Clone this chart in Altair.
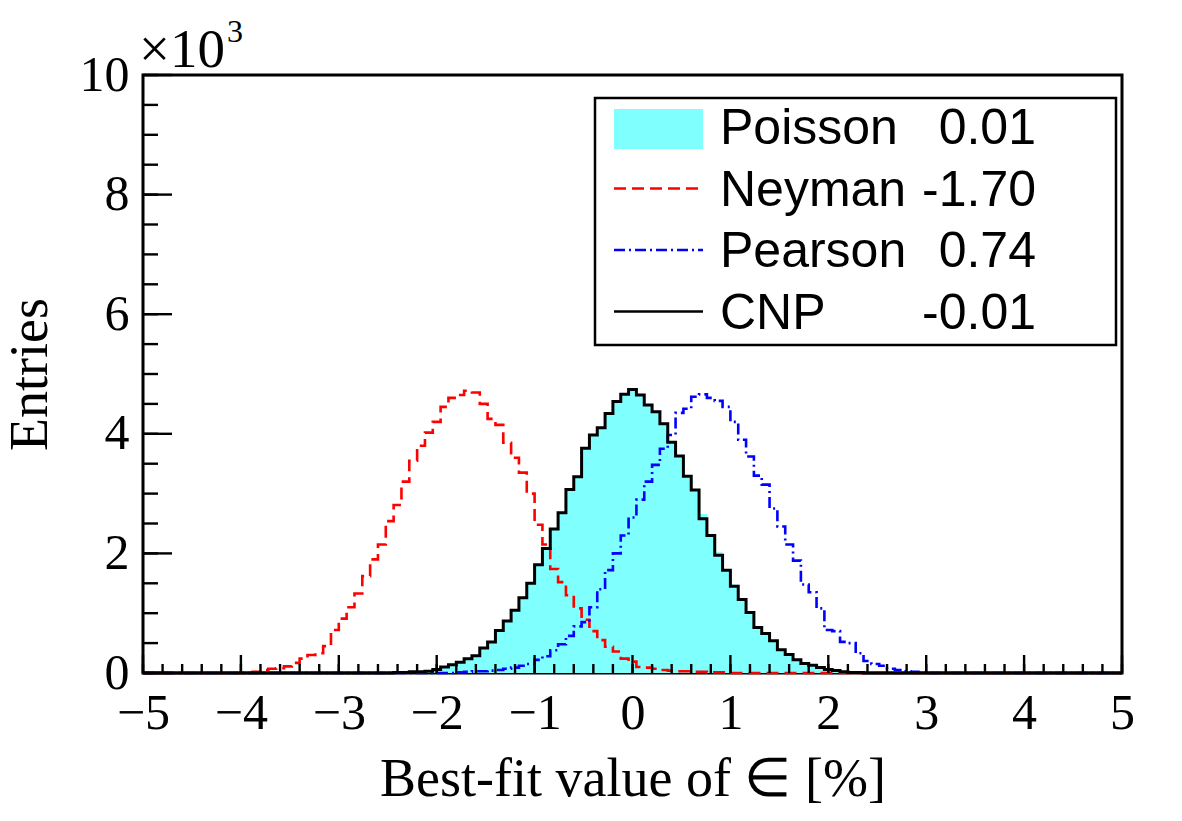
import altair as alt
import pandas as pd

# ---------------------------------------------------------------------------
# Histogram contents: 125 bins of width 0.08 on [-5, 5].
# Each list starts at the bin whose centre is given by *_FIRST; all other
# bins are empty.
# ---------------------------------------------------------------------------
BIN_WIDTH = 0.08
X_MIN, X_MAX = -5.0, 5.0
N_BINS = 125

CNP_FIRST = -2.40
CNP = [10, 10, 20, 20, 30, 60, 100, 140, 180, 240,
       290, 420, 520, 710, 870, 1050, 1260, 1500, 1810, 2080,
       2410, 2680, 3070, 3280, 3760, 3980, 4100, 4340, 4540, 4660,
       4740, 4650, 4480, 4370, 4170, 3860, 3630, 3290, 3060, 2580,
       2300, 1970, 1720, 1450, 1230, 1010, 760, 660, 540, 390,
       310, 220, 160, 130, 90, 60, 40, 20, 10, 10]

POISSON_FIRST = -2.40
POISSON = [10, 10, 20, 20, 30, 60, 100, 140, 180, 240,
           290, 420, 520, 710, 870, 1050, 1260, 1500, 1810, 2080,
           2410, 2680, 3070, 3280, 3760, 3980, 4100, 4340, 4540, 4660,
           4740, 4650, 4480, 4370, 4170, 3860, 3630, 3310, 3060, 2660,
           2300, 2020, 1720, 1480, 1230, 1010, 760, 660, 540, 390,
           310, 220, 160, 130, 90, 60, 40, 20, 10, 10]

NEYMAN_FIRST = -3.92
NEYMAN = [10, 20, 50, 70, 80, 110, 170, 240, 300, 330,
          450, 720, 910, 1100, 1330, 1620, 1900, 2150, 2540, 2810,
          3200, 3550, 3800, 4020, 4200, 4450, 4600, 4650, 4720, 4690,
          4500, 4250, 4150, 3850, 3600, 3350, 3000, 2480, 2150, 1740,
          1520, 1300, 1080, 890, 700, 550, 440, 360, 240, 190,
          100, 90, 70, 50, 40, 30, 30, 20, 20, 10,
          10, 10]

PEARSON_FIRST = -1.76
PEARSON = [10, 20, 30, 30, 40, 50, 70, 90, 120, 150,
           220, 280, 380, 480, 620, 780, 850, 1100, 1400, 1720,
           2000, 2300, 2600, 2900, 3200, 3480, 3750, 3980, 4350, 4420,
           4620, 4660, 4600, 4550, 4450, 4200, 3900, 3620, 3300, 3150,
           2750, 2450, 2150, 1880, 1480, 1350, 1080, 720, 700, 520,
           500, 330, 200, 150, 120, 70, 50, 30, 20, 10]

LEGEND_NAMES = ["Poisson", "Neyman", "Pearson", "CNP"]
LEGEND_VALUES = ["0.01", "-1.70", "0.74", "-0.01"]

X_MAJOR = [-5, -4, -3, -2, -1, 0, 1, 2, 3, 4, 5]
Y_MAJOR = [0, 2000, 4000, 6000, 8000, 10000]

# ---------------------------------------------------------------------------
W, H = 979, 598
CYAN = "#80FFFF"
SERIF = "Liberation Serif"
SANS = "Liberation Sans"


def step_table(first_centre, values, name):
    """Left bin edges with contents, plus the closing right edge (step-after)."""
    full = [0] * N_BINS
    start = round((first_centre - (X_MIN + BIN_WIDTH / 2)) / BIN_WIDTH)
    for k, v in enumerate(values):
        full[start + k] = v
    edges = [X_MIN + i * BIN_WIDTH for i in range(N_BINS + 1)]
    ys = full + [full[-1]]
    return pd.DataFrame({"x": edges, "y": ys, "series": name})


poisson_df = step_table(POISSON_FIRST, POISSON, "Poisson")
neyman_df = step_table(NEYMAN_FIRST, NEYMAN, "Neyman")
pearson_df = step_table(PEARSON_FIRST, PEARSON, "Pearson")
cnp_df = step_table(CNP_FIRST, CNP, "CNP")

xscale = alt.Scale(domain=[X_MIN, X_MAX], nice=False, zero=False)
yscale = alt.Scale(domain=[0, 10000], nice=False, zero=True)

X_TITLE = "Best-fit value of \u2208 [%]"
Y_TITLE = "Entries"

x_axis = alt.Axis(values=X_MAJOR, ticks=False, domain=False, grid=False,
                  labelFont=SERIF, labelFontSize=50, labelColor="black",
                  labelPadding=15, labelFlush=False,
                  titleFont=SERIF, titleFontSize=54, titleFontWeight="normal",
                  titleColor="black", titlePadding=14)
y_axis = alt.Axis(values=Y_MAJOR, ticks=False, domain=False, grid=False,
                  labelExpr="datum.value / 1000",
                  labelFont=SERIF, labelFontSize=50, labelColor="black",
                  labelPadding=14, labelFlush=False,
                  titleFont=SERIF, titleFontSize=54, titleFontWeight="normal",
                  titleColor="black", titlePadding=22)


def X(field):
    return alt.X(field, scale=xscale, axis=x_axis, title=X_TITLE)


def Y(field):
    return alt.Y(field, scale=yscale, axis=y_axis, title=Y_TITLE)


poisson = alt.Chart(poisson_df).mark_area(
    interpolate="step-after", color=CYAN, opacity=1
).encode(x=X("x:Q"), y=Y("y:Q"))


def outline(df, color, width, dash=None):
    kw = dict(interpolate="step-after", color=color, strokeWidth=width)
    if dash:
        kw["strokeDash"] = dash
    return alt.Chart(df).mark_line(**kw).encode(x=X("x:Q"), y=Y("y:Q"))


neyman = outline(neyman_df, "#FF0000", 2.6, [12, 6])
pearson = outline(pearson_df, "#0000FF", 2.6, [11, 4, 2, 4])
cnp = outline(cnp_df, "#000000", 3)

# Inward-pointing tick marks on the bottom and left edges
x_minor_vals = [round(X_MIN + 0.2 * i, 2) for i in range(51)]
y_minor_vals = [500 * i for i in range(21)]


def x_ticks(vals, length):
    return alt.Chart(pd.DataFrame({"x": vals})).mark_rule(
        color="black", strokeWidth=2.4
    ).encode(x=X("x:Q"), y=alt.value(H), y2=alt.value(H - length))


def y_ticks(vals, length):
    return alt.Chart(pd.DataFrame({"y": vals})).mark_rule(
        color="black", strokeWidth=2.4
    ).encode(y=Y("y:Q"), x=alt.value(0), x2=alt.value(length))


ticks = (x_ticks(x_minor_vals, 9) + x_ticks(X_MAJOR, 18)
         + y_ticks(y_minor_vals, 15) + y_ticks(Y_MAJOR, 29))

# Exponent label above the y axis
one = pd.DataFrame({"k": [0]})
exp_base = alt.Chart(one).mark_text(
    text="\u00d710", font=SERIF, fontSize=55, align="left", baseline="alphabetic",
    color="black"
).encode(x=alt.value(-4), y=alt.value(-8))
exp_pow = alt.Chart(one).mark_text(
    text="3", font=SERIF, fontSize=32, align="left", baseline="alphabetic",
    color="black"
).encode(x=alt.value(84), y=alt.value(-33))

# Legend box
LX0, LX1, LY0, LY1 = 452, 973, 23, 270
ROW0, ROW_STEP = 52, 61.5
SYM_X0, SYM_X1 = 471, 560

legend_box = alt.Chart(one).mark_rect(
    fill="white", stroke="black", strokeWidth=2.5
).encode(x=alt.value(LX0), x2=alt.value(LX1), y=alt.value(LY0), y2=alt.value(LY1))

sym_poisson = alt.Chart(one).mark_rect(fill=CYAN).encode(
    x=alt.value(SYM_X0), x2=alt.value(SYM_X1),
    y=alt.value(ROW0 - 18), y2=alt.value(ROW0 + 22))


def sym_line(row, color, width, dash=None):
    kw = dict(color=color, strokeWidth=width)
    if dash:
        kw["strokeDash"] = dash
    yy = ROW0 + ROW_STEP * row
    return alt.Chart(one).mark_rule(**kw).encode(
        x=alt.value(SYM_X0), x2=alt.value(SYM_X1), y=alt.value(yy))


legend_rows = pd.DataFrame({
    "name": LEGEND_NAMES,
    "value": LEGEND_VALUES,
    "py": [ROW0 + ROW_STEP * i for i in range(4)],
})
legend_names = alt.Chart(legend_rows).mark_text(
    font=SANS, fontSize=50, align="left", baseline="middle", color="black", dy=2
).encode(x=alt.value(577), y=alt.Y("py:Q", scale=None), text="name:N")
legend_values = alt.Chart(legend_rows).mark_text(
    font=SANS, fontSize=50, align="right", baseline="middle", color="black", dy=2
).encode(x=alt.value(893), y=alt.Y("py:Q", scale=None), text="value:N")

chart = alt.layer(
    poisson, neyman, pearson, cnp, ticks,
    legend_box, sym_poisson,
    sym_line(1, "#FF0000", 2.6, [12, 6]),
    sym_line(2, "#0000FF", 2.6, [11, 4, 2, 4]),
    sym_line(3, "#000000", 2.6),
    legend_names, legend_values,
    exp_base, exp_pow,
).properties(
    width=W, height=H,
    autosize=alt.AutoSizeParams(type="none"),
    padding={"left": 143, "top": 75, "right": 60, "bottom": 148},
    background="white",
).configure_view(
    stroke="black", strokeWidth=3
)

chart.save("out.html", embed_options={"renderer": "svg", "actions": False})
